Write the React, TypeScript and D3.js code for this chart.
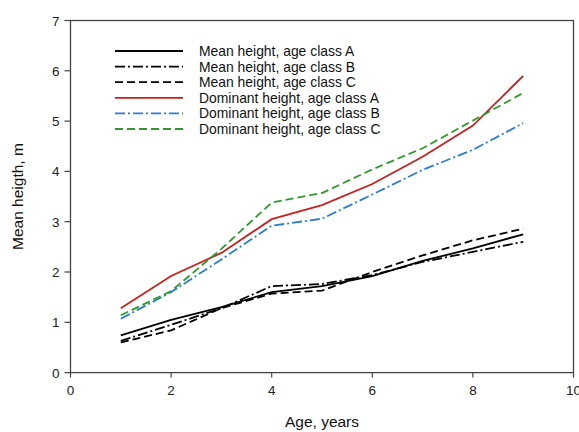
import React from "react";
import * as d3 from "d3";

const ages = [1, 2, 3, 4, 5, 6, 7, 8, 9];
const meanA = [0.74, 1.05, 1.3, 1.6, 1.72, 1.92, 2.22, 2.47, 2.75];
const meanB = [0.63, 0.95, 1.28, 1.72, 1.76, 1.94, 2.2, 2.4, 2.6];
const meanC = [0.6, 0.84, 1.28, 1.57, 1.63, 2.0, 2.33, 2.63, 2.86];
const domA = [1.28, 1.92, 2.38, 3.05, 3.33, 3.75, 4.29, 4.91, 5.9];
const domB = [1.07, 1.6, 2.25, 2.92, 3.06, 3.54, 4.03, 4.43, 4.96];
const domC = [1.14, 1.62, 2.46, 3.38, 3.57, 4.04, 4.46, 5.01, 5.56];
const seriesNames = [
  "Mean height, age class A",
  "Mean height, age class B",
  "Mean height, age class C",
  "Dominant height, age class A",
  "Dominant height, age class B",
  "Dominant height, age class C",
];
const xTicks = [0, 2, 4, 6, 8, 10];
const yTicks = [0, 1, 2, 3, 4, 5, 6, 7];

const W = 579, H = 432;
const L = 70.5, R = 573.5, T = 20.5, B = 372.6;

export default function App() {
  const x = d3.scaleLinear().domain([0, 10]).range([L, R]);
  const y = d3.scaleLinear().domain([0, 7]).range([B, T]);
  const styles = [
    { color: "#000", dash: "" },
    { color: "#000", dash: "10 3 2 3" },
    { color: "#000", dash: "8 4" },
    { color: "#c8201e", dash: "" },
    { color: "#2a7dd6", dash: "10 3 2 3" },
    { color: "#2f9a2c", dash: "8 4" },
  ];
  const data = [meanA, meanB, meanC, domA, domB, domC];
  const line = d3.line<number>().x((_, i) => x(ages[i])).y((d) => y(d));
  const font = "Arial, 'Liberation Sans', sans-serif";
  return (
    <svg width={W} height={H} style={{ position: "absolute", left: 0, top: 0 }} fontFamily={font}>
      <rect x={0} y={0} width={W} height={H} fill="#fff" />
      {data.map((d, i) => (
        <path key={i} d={line(d) || ""} fill="none" stroke={styles[i].color}
          strokeWidth={1.8} strokeDasharray={styles[i].dash} />
      ))}
      <rect x={L} y={T} width={R - L} height={B - T} fill="none" stroke="#444" strokeWidth={1.3} />
      {xTicks.map((t) => (
        <g key={"x" + t}>
          <line x1={x(t)} x2={x(t)} y1={B} y2={B + 5} stroke="#444" strokeWidth={1.2} />
          <text x={x(t)} y={B + 22} textAnchor="middle" fontSize={13.5} fill="#222">{t}</text>
        </g>
      ))}
      {yTicks.map((t) => (
        <g key={"y" + t}>
          <line x1={L - 6} x2={L} y1={y(t)} y2={y(t)} stroke="#444" strokeWidth={1.2} />
          <text x={L - 11} y={y(t) + 5} textAnchor="end" fontSize={13.5} fill="#222">{t}</text>
        </g>
      ))}
      <text x={(L + R) / 2} y={427} textAnchor="middle" fontSize={15.5} fill="#111">Age, years</text>
      <text transform={`translate(23, ${(T + B) / 2}) rotate(-90)`} textAnchor="middle" fontSize={15.5} fill="#111">Mean heigth, m</text>
      {seriesNames.map((n, i) => {
        const yy = 51 + i * 15.6;
        return (
          <g key={n}>
            <line x1={115} x2={183} y1={yy} y2={yy} stroke={styles[i].color} strokeWidth={1.8}
              strokeDasharray={styles[i].dash} />
            <text x={199} y={yy + 5} fontSize={13.9} fill="#111">{n}</text>
          </g>
        );
      })}
    </svg>
  );
}
